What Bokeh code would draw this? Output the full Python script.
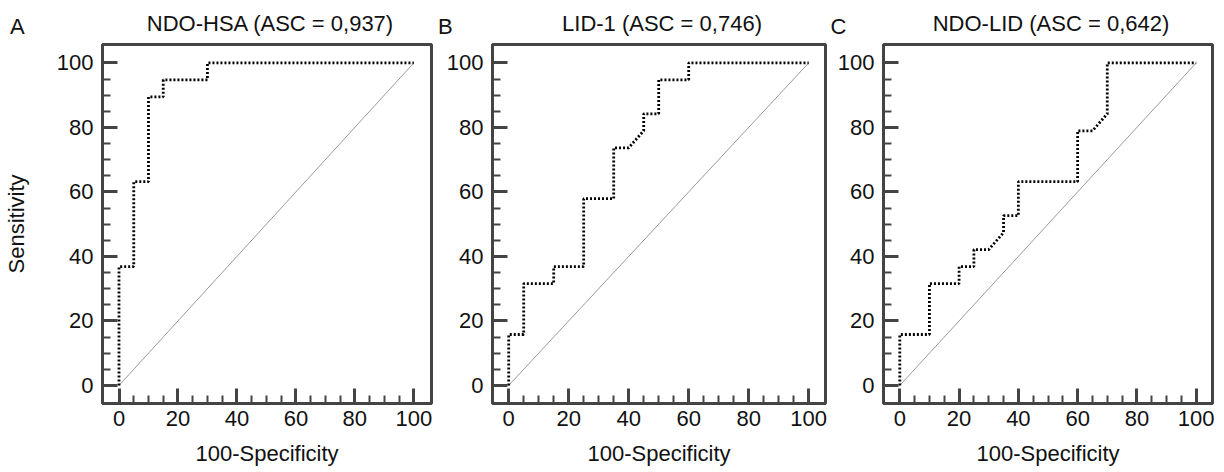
from bokeh.plotting import figure
from bokeh.models import Range1d, FixedTicker, Div
from bokeh.layouts import row, column
from bokeh.embed import file_html
from bokeh.resources import INLINE

# ---- data ----
panel_letters = ["A", "B", "C"]
titles = ["NDO-HSA (ASC = 0,937)", "LID-1 (ASC = 0,746)", "NDO-LID (ASC = 0,642)"]

fpr_a = [0, 0, 5, 5, 10, 10, 15, 15, 30, 30, 100]
tpr_a = [0, 36.84, 36.84, 63.16, 63.16, 89.47, 89.47, 94.74, 94.74, 100, 100]

fpr_b = [0, 0, 5, 5, 15, 15, 25, 25, 35, 35, 40, 45, 45, 50, 50, 60, 60, 100]
tpr_b = [0, 15.79, 15.79, 31.58, 31.58, 36.84, 36.84, 57.89, 57.89, 73.68, 73.68,
         78.95, 84.21, 84.21, 94.74, 94.74, 100, 100]

fpr_c = [0, 0, 10, 10, 20, 20, 25, 25, 30, 35, 35, 40, 40, 60, 60, 65, 70, 70, 100]
tpr_c = [0, 15.79, 15.79, 31.58, 31.58, 36.84, 36.84, 42.11, 42.11, 47.37, 52.63,
         52.63, 63.16, 63.16, 78.95, 78.95, 84.21, 100, 100]

ref_x = [0, 100]
ref_y = [0, 100]

major_ticks = [0, 20, 40, 60, 80, 100]
minor_ticks = [5, 10, 15, 25, 30, 35, 45, 50, 55, 65, 70, 75, 85, 90, 95]

x_label = "100-Specificity"
y_label = "Sensitivity"

# ---- styling / layout ----
FONT = "Liberation Sans"
FRAME_COLOR = "#444444"
TEXT_COLOR = "#111111"

curves = [(fpr_a, tpr_a), (fpr_b, tpr_b), (fpr_c, tpr_c)]
frame_w = [331, 333, 329]
lefts = [100, 53, 53]
rights = [8, 5, 6]
x_ranges = [(-5.6, 106.0), (-5.4, 105.6), (-5.5, 105.5)]
y_range = (-5.6, 105.7)
FRAME_H = 359
HEADER_H = 36
MAIN_H = 472 - HEADER_H
TOP = 8

# header positions (px): letter left/top, title centre/top
letter_left = [10, 438, 830.6]
letter_top = [16.4, 15.7, 15.7]
title_center = [270, 662, 1051]
title_top = 13.1


def make_panel(i):
    width = lefts[i] + frame_w[i] + rights[i]
    p = figure(width=width, height=MAIN_H, output_backend="svg", toolbar_location=None,
               x_range=Range1d(*x_ranges[i]), y_range=Range1d(*y_range),
               min_border_left=lefts[i], min_border_right=rights[i],
               min_border_top=TOP, min_border_bottom=MAIN_H - TOP - FRAME_H)
    p.grid.visible = False
    p.background_fill_color = "white"
    p.border_fill_color = "white"
    p.outline_line_color = FRAME_COLOR
    p.outline_line_width = 3

    for ax in (p.xaxis[0], p.yaxis[0]):
        ax.ticker = FixedTicker(ticks=major_ticks, minor_ticks=minor_ticks)
        ax.axis_line_color = FRAME_COLOR
        ax.axis_line_width = 3
        ax.major_tick_in = 15
        ax.major_tick_out = 0
        ax.minor_tick_in = 8
        ax.minor_tick_out = 0
        ax.major_tick_line_color = FRAME_COLOR
        ax.major_tick_line_width = 3
        ax.minor_tick_line_color = FRAME_COLOR
        ax.minor_tick_line_width = 2
        ax.major_label_text_font = FONT
        ax.major_label_text_font_size = "22px"
        ax.major_label_text_color = TEXT_COLOR
    p.xaxis[0].major_label_standoff = 7
    p.yaxis[0].major_label_standoff = 9

    xa = p.xaxis[0]
    xa.axis_label = x_label
    xa.axis_label_text_font = FONT
    xa.axis_label_text_font_size = "22px"
    xa.axis_label_text_font_style = "normal"
    xa.axis_label_text_color = TEXT_COLOR
    xa.axis_label_standoff = 12

    if i == 0:
        ya = p.yaxis[0]
        ya.axis_label = y_label
        ya.axis_label_text_font = FONT
        ya.axis_label_text_font_size = "22px"
        ya.axis_label_text_font_style = "normal"
        ya.axis_label_text_color = TEXT_COLOR
        ya.axis_label_standoff = 25

    # diagonal reference line
    p.line(ref_x, ref_y, line_color="#9a9a9a", line_width=1)
    # ROC curve
    fx, ty = curves[i]
    p.line(fx, ty, line_color="black", line_width=2.8, line_dash="2 2")
    return p


spans = []
for i in range(3):
    spans.append(
        f'<span style="position:absolute;left:{letter_left[i]}px;top:{letter_top[i]}px;'
        f'white-space:nowrap;">{panel_letters[i]}</span>')
    spans.append(
        f'<span style="position:absolute;left:{title_center[i]}px;top:{title_top}px;'
        f'transform:translateX(-50%);white-space:nowrap;">{titles[i]}</span>')

header_html = (
    f'<div style="position:relative;width:1224px;height:{HEADER_H}px;'
    f"font-family:'{FONT}';font-size:22px;line-height:22px;color:{TEXT_COLOR};\">"
    + "".join(spans) + "</div>")
header = Div(text=header_html, width=1224, height=HEADER_H, margin=0)

panels = [make_panel(i) for i in range(3)]
layout = column(header, row(*panels, spacing=0), spacing=0)
open("out.html", "w").write(file_html(layout, INLINE))
